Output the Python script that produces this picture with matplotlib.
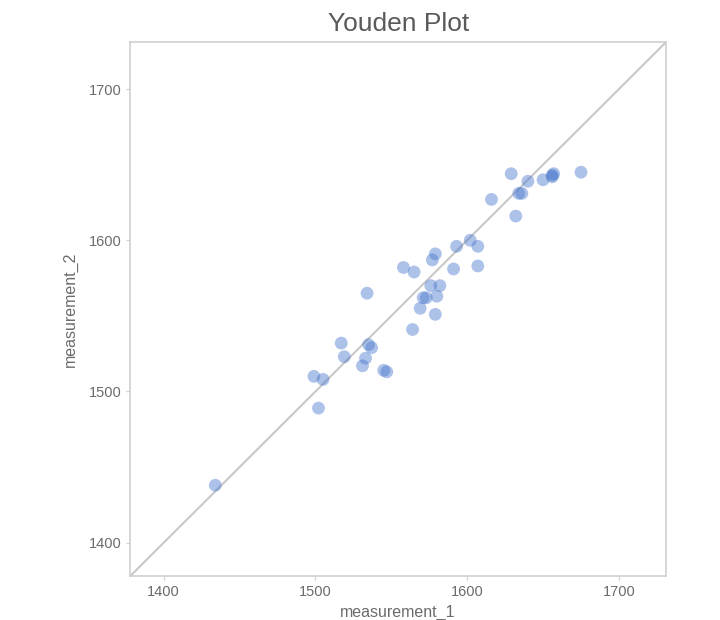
import numpy as np
import matplotlib
matplotlib.use("Agg")
import matplotlib.pyplot as plt

measurement_1 = [1434, 1499, 1505, 1502, 1517, 1519, 1534, 1535, 1537, 1533, 1531,
                 1545, 1547, 1558, 1565, 1564, 1569, 1571, 1573, 1576, 1577, 1579,
                 1579, 1580, 1582, 1591, 1593, 1602, 1607, 1607, 1616, 1629, 1632,
                 1634, 1636, 1640, 1650, 1656, 1657, 1656, 1675]
measurement_2 = [1438, 1510, 1508, 1489, 1532, 1523, 1565, 1531, 1529, 1522, 1517,
                 1514, 1513, 1582, 1579, 1541, 1555, 1562, 1562, 1570, 1587, 1591,
                 1551, 1563, 1570, 1581, 1596, 1600, 1596, 1583, 1627, 1644, 1616,
                 1631, 1631, 1639, 1640, 1643, 1644, 1642, 1645]

lims = [1378, 1731]
ticks = [1400, 1500, 1600, 1700]

grey_txt = "#6b6b6b"
spine_col = "#cfcfcf"

plt.rcParams['font.family'] = ['Liberation Sans', 'DejaVu Sans']

fig = plt.figure(figsize=(7.2, 6.2), dpi=100)
ax = fig.add_axes([0.181, 0.071, 0.744, 0.861])

ax.plot(lims, lims, color="#c8c8c8", linewidth=1.5, zorder=1)
ax.scatter(measurement_1, measurement_2, s=85, color="#4a78cc", alpha=0.45,
           edgecolors="none", zorder=2)

ax.set_xlim(lims)
ax.set_ylim(lims)
ax.set_xticks(ticks)
ax.set_yticks(ticks)
for s in ax.spines.values():
    s.set_color(spine_col)
    s.set_linewidth(1.2)
ax.tick_params(colors=spine_col, labelcolor=grey_txt, labelsize=10.5, length=3)

ax.set_xlabel("measurement_1", color=grey_txt, fontsize=11.5, labelpad=4)
ax.set_ylabel("measurement_2", color=grey_txt, fontsize=11.5, labelpad=8)
ax.set_title("Youden Plot", color="#5a5a5a", fontsize=19, pad=8)

fig.savefig("out.png", dpi=100)
